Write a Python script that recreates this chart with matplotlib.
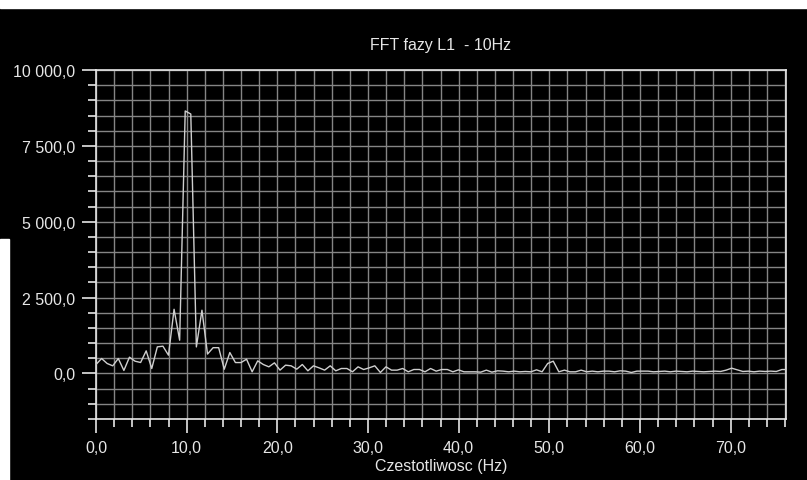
import matplotlib.pyplot as plt
import numpy as np
from matplotlib.ticker import MultipleLocator, FuncFormatter

# FFT bins (about 0.615 Hz apart)
df = 0.615
amp = [296, 493, 329, 252, 493, 99, 537, 405, 362, 745,
       164, 877, 899, 603, 2115, 1096, 8650, 8550, 875, 2085,
       640, 850, 850, 140, 690, 360, 360, 470, 55,
       416, 296, 219, 351, 110, 274, 252, 142, 296, 88,
       252, 186, 110, 252, 88, 164, 164, 55, 219, 131,
       186, 252, 33, 219, 110, 110, 164, 55, 131, 131,
       55, 164, 77, 131, 131, 55, 120, 55, 55, 55,
       44, 110, 44, 88, 77, 55, 77, 55, 66, 55, 120, 55,
       329, 405, 55,
       110, 55, 55, 110, 55, 77, 55, 77, 77, 55, 88, 77, 33, 77, 77, 77, 55,
       66, 77, 55, 77, 66, 55, 77, 66, 55, 66, 77, 66, 110, 175, 120,
       66, 77, 55, 77, 66, 77, 66, 130, 130]
freq = np.arange(len(amp)) * df

title = 'FFT fazy L1  - 10Hz'
xlabel = 'Czestotliwosc (Hz)'

fg = '#e6e6e6'
grid = '#858585'

plt.rcParams['font.family'] = ['Liberation Sans', 'DejaVu Sans']

fig = plt.figure(figsize=(8.07, 4.81), dpi=100, facecolor='black')
ax = fig.add_axes([96/807, 1 - 420/481, 690/807, 349/481])
ax.set_facecolor('black')

# white strips along the screenshot edges
fig.patches.append(plt.Rectangle((0, 1 - 9/481), 1, 9/481, transform=fig.transFigure,
                                 color='white', zorder=0))
fig.patches.append(plt.Rectangle((0, 0), 9/807, 1 - 240/481, transform=fig.transFigure,
                                 color='white', zorder=0))

ax.plot(freq, amp, color='#cfcfcf', lw=1.0, zorder=3)

ax.set_xlim(0, 76.1)
ax.set_ylim(-1500, 10000)
ax.xaxis.set_major_locator(MultipleLocator(10))
ax.xaxis.set_minor_locator(MultipleLocator(2))
ax.yaxis.set_major_locator(MultipleLocator(2500))
ax.yaxis.set_minor_locator(MultipleLocator(500))

def yfmt(v, pos):
    s = '{:,.1f}'.format(v)
    return s.replace(',', ' ').replace('.', ',')

ax.yaxis.set_major_formatter(FuncFormatter(yfmt))
ax.xaxis.set_major_formatter(FuncFormatter(lambda v, p: '{:.1f}'.format(v).replace('.', ',')))

ax.grid(True, which='both', color=grid, lw=1)
ax.set_axisbelow(True)
for s in ax.spines.values():
    s.set_color(fg)
    s.set_linewidth(1.2)

ax.tick_params(which='major', length=10, width=1.2, color=fg, labelcolor=fg,
               labelsize=11.5, pad=5)
ax.tick_params(which='minor', length=6, width=1.2, color=fg)

ax.set_title(title, color=fg, fontsize=11.5, pad=15)
ax.set_xlabel(xlabel, color=fg, fontsize=11.5, labelpad=2)

fig.savefig('out.png', dpi=100, facecolor='black')
